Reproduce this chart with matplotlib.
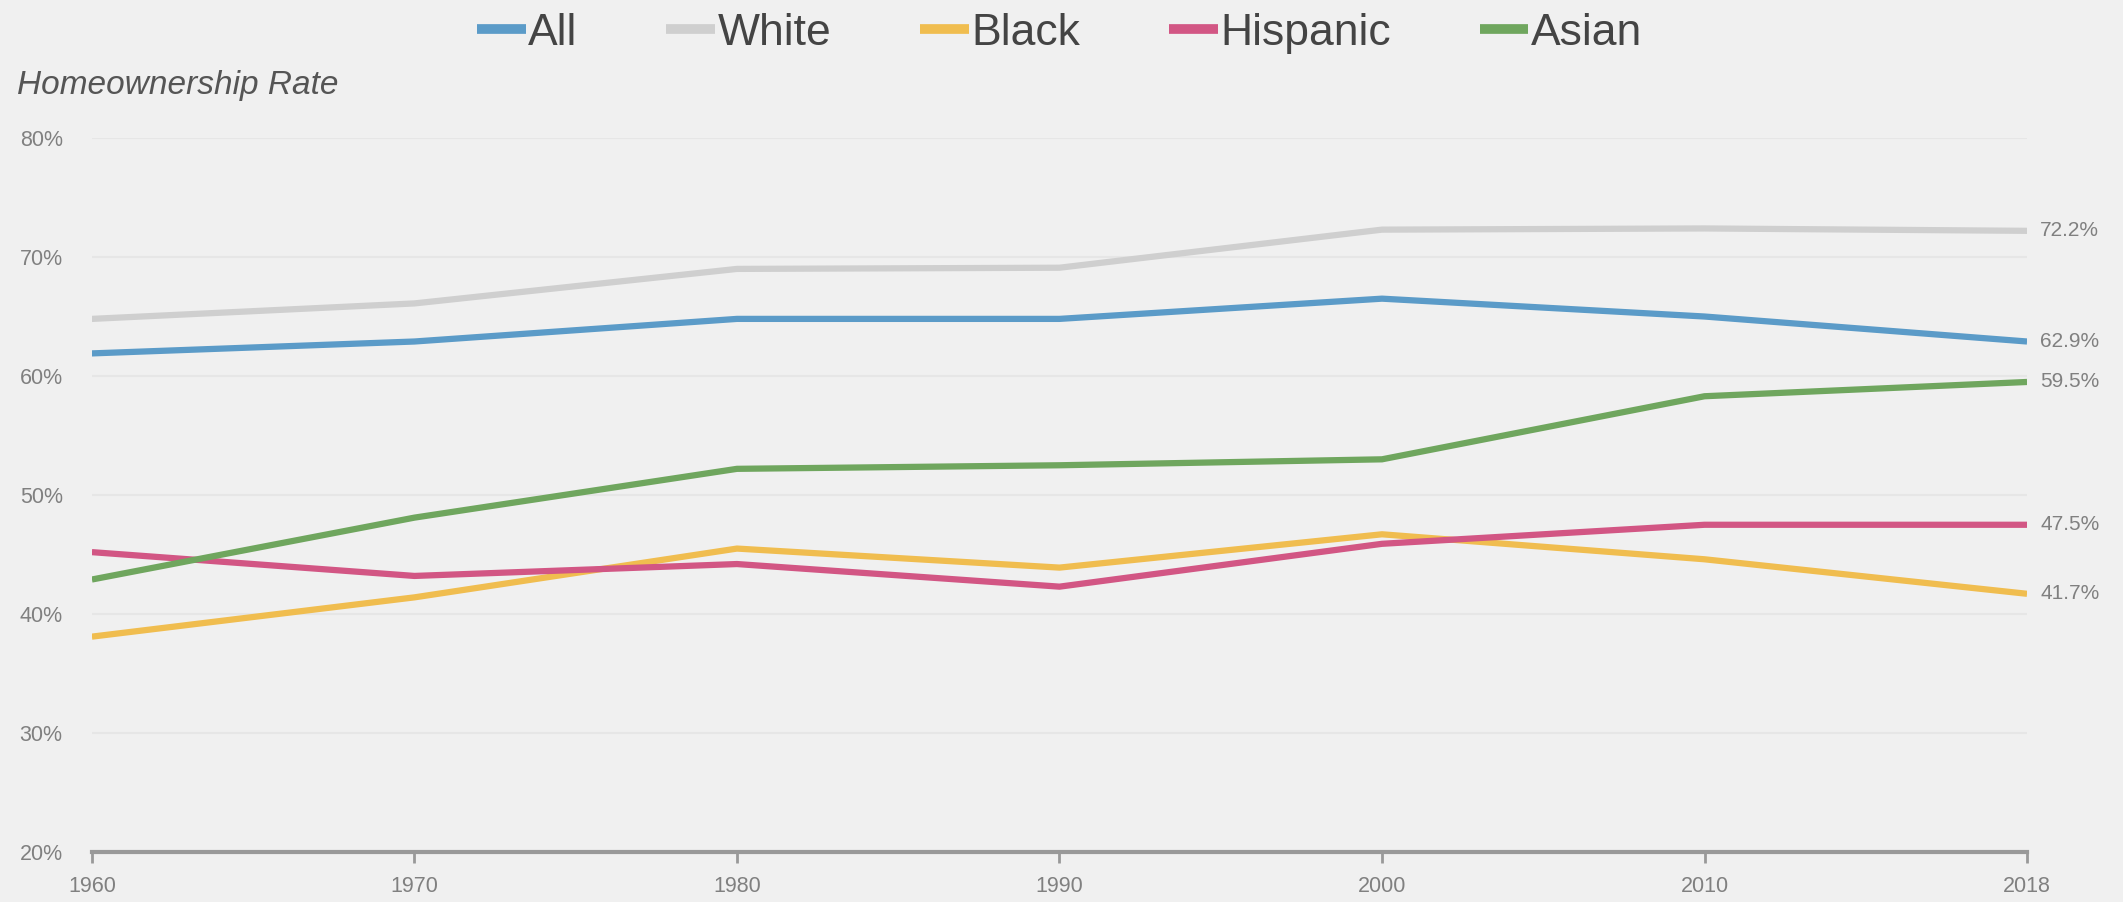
import matplotlib
matplotlib.use("Agg")
import matplotlib.pyplot as plt

plt.rcParams['font.family'] = ['Liberation Sans', 'DejaVu Sans']

years = ["1960", "1970", "1980", "1990", "2000", "2010", "2018"]
all_rate = [61.9, 62.9, 64.8, 64.8, 66.5, 65.0, 62.9]
white = [64.8, 66.1, 69.0, 69.1, 72.3, 72.4, 72.2]
black = [38.1, 41.4, 45.5, 43.9, 46.7, 44.6, 41.7]
hispanic = [45.2, 43.2, 44.2, 42.3, 45.9, 47.5, 47.5]
asian = [42.9, 48.1, 52.2, 52.5, 53.0, 58.3, 59.5]

series = [
    ("All", all_rate, "#5b9bc8"),
    ("White", white, "#cfcfcf"),
    ("Black", black, "#f0bd4f"),
    ("Hispanic", hispanic, "#d25684"),
    ("Asian", asian, "#6fa65e"),
]
end_labels = ["62.9%", "72.2%", "41.7%", "47.5%", "59.5%"]
yticks = [20, 30, 40, 50, 60, 70, 80]

bg = "#f0f0f0"
fig = plt.figure(figsize=(21.23, 9.02), dpi=100, facecolor=bg)
ax = fig.add_axes([0.0433, 0.0554, 0.9115, 0.7916], facecolor=bg)

x = list(range(len(years)))
for name, vals, col in series:
    ax.plot(x, vals, color=col, lw=4.5, label=name, solid_capstyle='butt')

# value labels at the right end of each line
for (name, vals, col), lab in zip(series, end_labels):
    ax.annotate(lab, (x[-1], vals[-1]), xytext=(13, 0), textcoords='offset pixels',
                va='center', ha='left', fontsize=15, color='#808080',
                annotation_clip=False)

ax.set_xlim(0, len(years) - 1)
ax.set_ylim(20, 80)
ax.set_xticks(x)
ax.set_xticklabels(years)
ax.set_yticks(yticks)
ax.set_yticklabels([f"{v}%" for v in yticks])

for v in yticks[1:]:
    ax.axhline(v, color='#e6e6e6', lw=1.5, zorder=0)

for s in ['top', 'right', 'left']:
    ax.spines[s].set_visible(False)
ax.spines['bottom'].set_color('#999999')
ax.spines['bottom'].set_linewidth(3)

ax.tick_params(axis='x', colors='#999999', length=8, width=2, labelsize=15.5,
               labelcolor='#808080', pad=9)
ax.tick_params(axis='y', length=0, labelsize=15.5, labelcolor='#808080', pad=52)
for t in ax.get_yticklabels():
    t.set_horizontalalignment('left')

fig.text(0.008, 0.905, "Homeownership Rate", fontsize=24, style='italic',
         color='#555555', va='center', ha='left')

leg = fig.legend(loc='center', bbox_to_anchor=(0.499, 0.963), ncol=5, frameon=False,
                 fontsize=32, handlelength=1.1, handletextpad=0.05,
                 columnspacing=2.0)
for h in leg.get_lines():
    h.set_linewidth(7)
for t in leg.get_texts():
    t.set_color('#444444')

fig.savefig("out.png", dpi=100, facecolor=bg)
